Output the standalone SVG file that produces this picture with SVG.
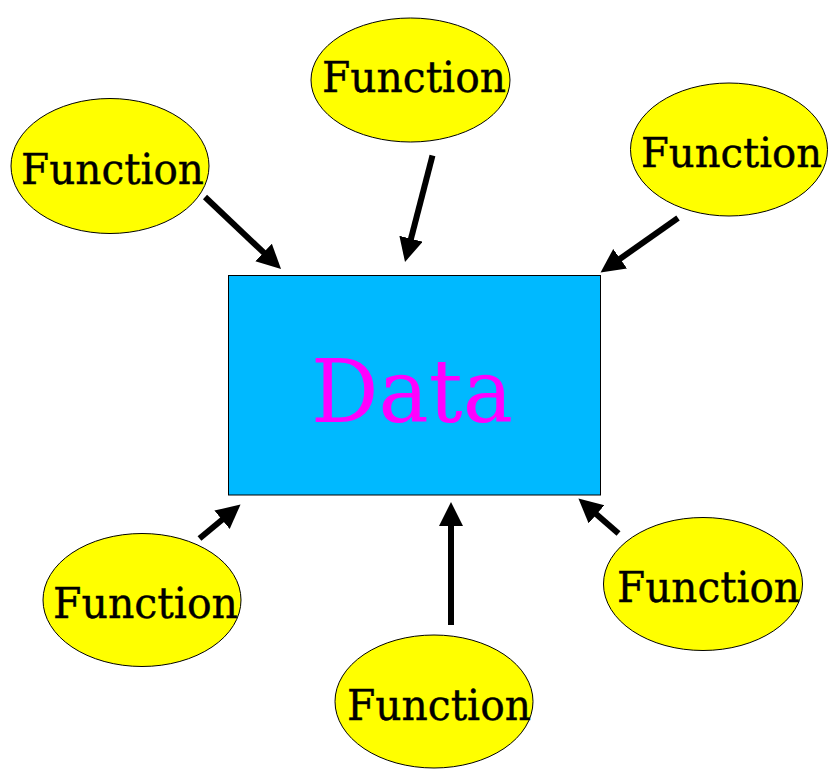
<svg xmlns="http://www.w3.org/2000/svg" width="829" height="772" viewBox="0 0 829 772">
  <style>
    .fn ellipse { fill: #FFFF00; stroke: #000; stroke-width: 1; }
    .fn text { font-family: "DejaVu Serif", "Liberation Serif", serif; font-size: 43px; fill: #000; stroke: #000; stroke-width: 0.4; }
    .conn line { stroke: #000; stroke-width: 6; }
  </style>
  <defs>
    <marker id="ah" markerUnits="userSpaceOnUse" markerWidth="26" markerHeight="26" refX="4" refY="12" orient="auto">
      <path d="M0,0 L24,12 L0,24 z" fill="#000"/>
    </marker>
  </defs>
  <rect width="829" height="772" fill="#fff"/>

  <g id="data">
    <rect x="228.5" y="275.5" width="372" height="219.5" fill="#00B9FF" stroke="#000" stroke-width="1"/>
    <text x="311" y="422" font-family="DejaVu Serif, Liberation Serif, serif" font-size="88" fill="#FF00FF" textLength="202" lengthAdjust="spacingAndGlyphs">Data</text>
  </g>

  <g id="fn-top-left" class="fn">
    <ellipse cx="110" cy="166" rx="99" ry="67.5"/>
    <text x="21" y="184" textLength="183" lengthAdjust="spacingAndGlyphs">Function</text>
  </g>
  <g id="fn-top" class="fn">
    <ellipse cx="410.5" cy="80" rx="99.5" ry="62"/>
    <text x="322" y="92" textLength="184" lengthAdjust="spacingAndGlyphs">Function</text>
  </g>
  <g id="fn-top-right" class="fn">
    <ellipse cx="729" cy="149.5" rx="98.5" ry="66.5"/>
    <text x="641" y="167" font-size="41" style="font-size:41px" textLength="181" lengthAdjust="spacingAndGlyphs">Function</text>
  </g>
  <g id="fn-bottom-left" class="fn">
    <ellipse cx="142" cy="600" rx="99" ry="66.5"/>
    <text x="53" y="618" textLength="185" lengthAdjust="spacingAndGlyphs">Function</text>
  </g>
  <g id="fn-bottom" class="fn">
    <ellipse cx="434" cy="701.5" rx="99" ry="66.5"/>
    <text x="347" y="720" textLength="184" lengthAdjust="spacingAndGlyphs">Function</text>
  </g>
  <g id="fn-bottom-right" class="fn">
    <ellipse cx="703" cy="584" rx="99.5" ry="66.5"/>
    <text x="617" y="602" textLength="183" lengthAdjust="spacingAndGlyphs">Function</text>
  </g>

  <g id="connectors" class="conn">
    <line x1="205" y1="197" x2="266.5" y2="255.2" marker-end="url(#ah)"/>
    <line x1="432.5" y1="155.5" x2="410" y2="242.6" marker-end="url(#ah)"/>
    <line x1="678" y1="218" x2="616.9" y2="261" marker-end="url(#ah)"/>
    <line x1="199.5" y1="538.5" x2="225.1" y2="517.3" marker-end="url(#ah)"/>
    <line x1="451" y1="625" x2="451" y2="522" marker-end="url(#ah)"/>
    <line x1="618.5" y1="533.5" x2="593.5" y2="511.7" marker-end="url(#ah)"/>
  </g>
</svg>
